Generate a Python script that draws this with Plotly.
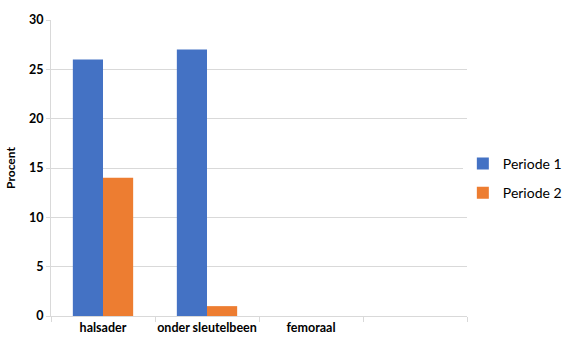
import plotly.graph_objects as go

categories = ["halsader", "onder sleutelbeen", "femoraal", " "]
periode1 = [26, 27, 0, None]
periode2 = [14, 1, 0, None]
series_names = ["Periode 1", "Periode 2"]
colors = ["#4472C4", "#ED7D31"]
y_ticks = [0, 5, 10, 15, 20, 25, 30]

fig = go.Figure()
for name, vals, col in zip(series_names, [periode1, periode2], colors):
    fig.add_trace(go.Bar(x=categories, y=vals, name=name, marker_color=col,
                         marker_line_width=0, legendgroup=name))

font_family = "Lato, 'Open Sans', sans-serif"
fig.update_layout(
    width=565, height=338,
    margin=dict(l=51, r=98, t=20, b=22, autoexpand=False),
    paper_bgcolor="white", plot_bgcolor="white",
    barmode="group", bargap=0.42, bargroupgap=0,
    font=dict(family=font_family, color="#000000"),
    legend=dict(x=0.99, y=0.465, xanchor="left", yanchor="middle",
                font=dict(size=14, color="#000000"), tracegroupgap=8,
                traceorder="grouped", itemwidth=30),
    xaxis=dict(type="category", categoryorder="array", categoryarray=categories,
               range=[-0.5, 3.5], tickson="boundaries", ticks="outside", ticklen=5,
               tickcolor="#D9D9D9", showline=True, linecolor="#D9D9D9", linewidth=1,
               showgrid=False, tickangle=0, automargin=False,
               tickfont=dict(size=12.5, color="#000000", weight="bold"),
               fixedrange=True),
    yaxis=dict(range=[0, 30], tickvals=y_ticks, ticks="outside", ticklen=4,
               tickcolor="#D9D9D9", showline=True, linecolor="#D9D9D9", linewidth=1,
               showgrid=True, gridcolor="#D9D9D9", gridwidth=1, zeroline=False,
               automargin=False,
               tickfont=dict(size=12.5, color="#000000", weight="bold"),
               title=dict(text="Procent", font=dict(size=12, color="#000000", weight="bold"), standoff=10),
               fixedrange=True),
)
fig.write_html("out.html")
